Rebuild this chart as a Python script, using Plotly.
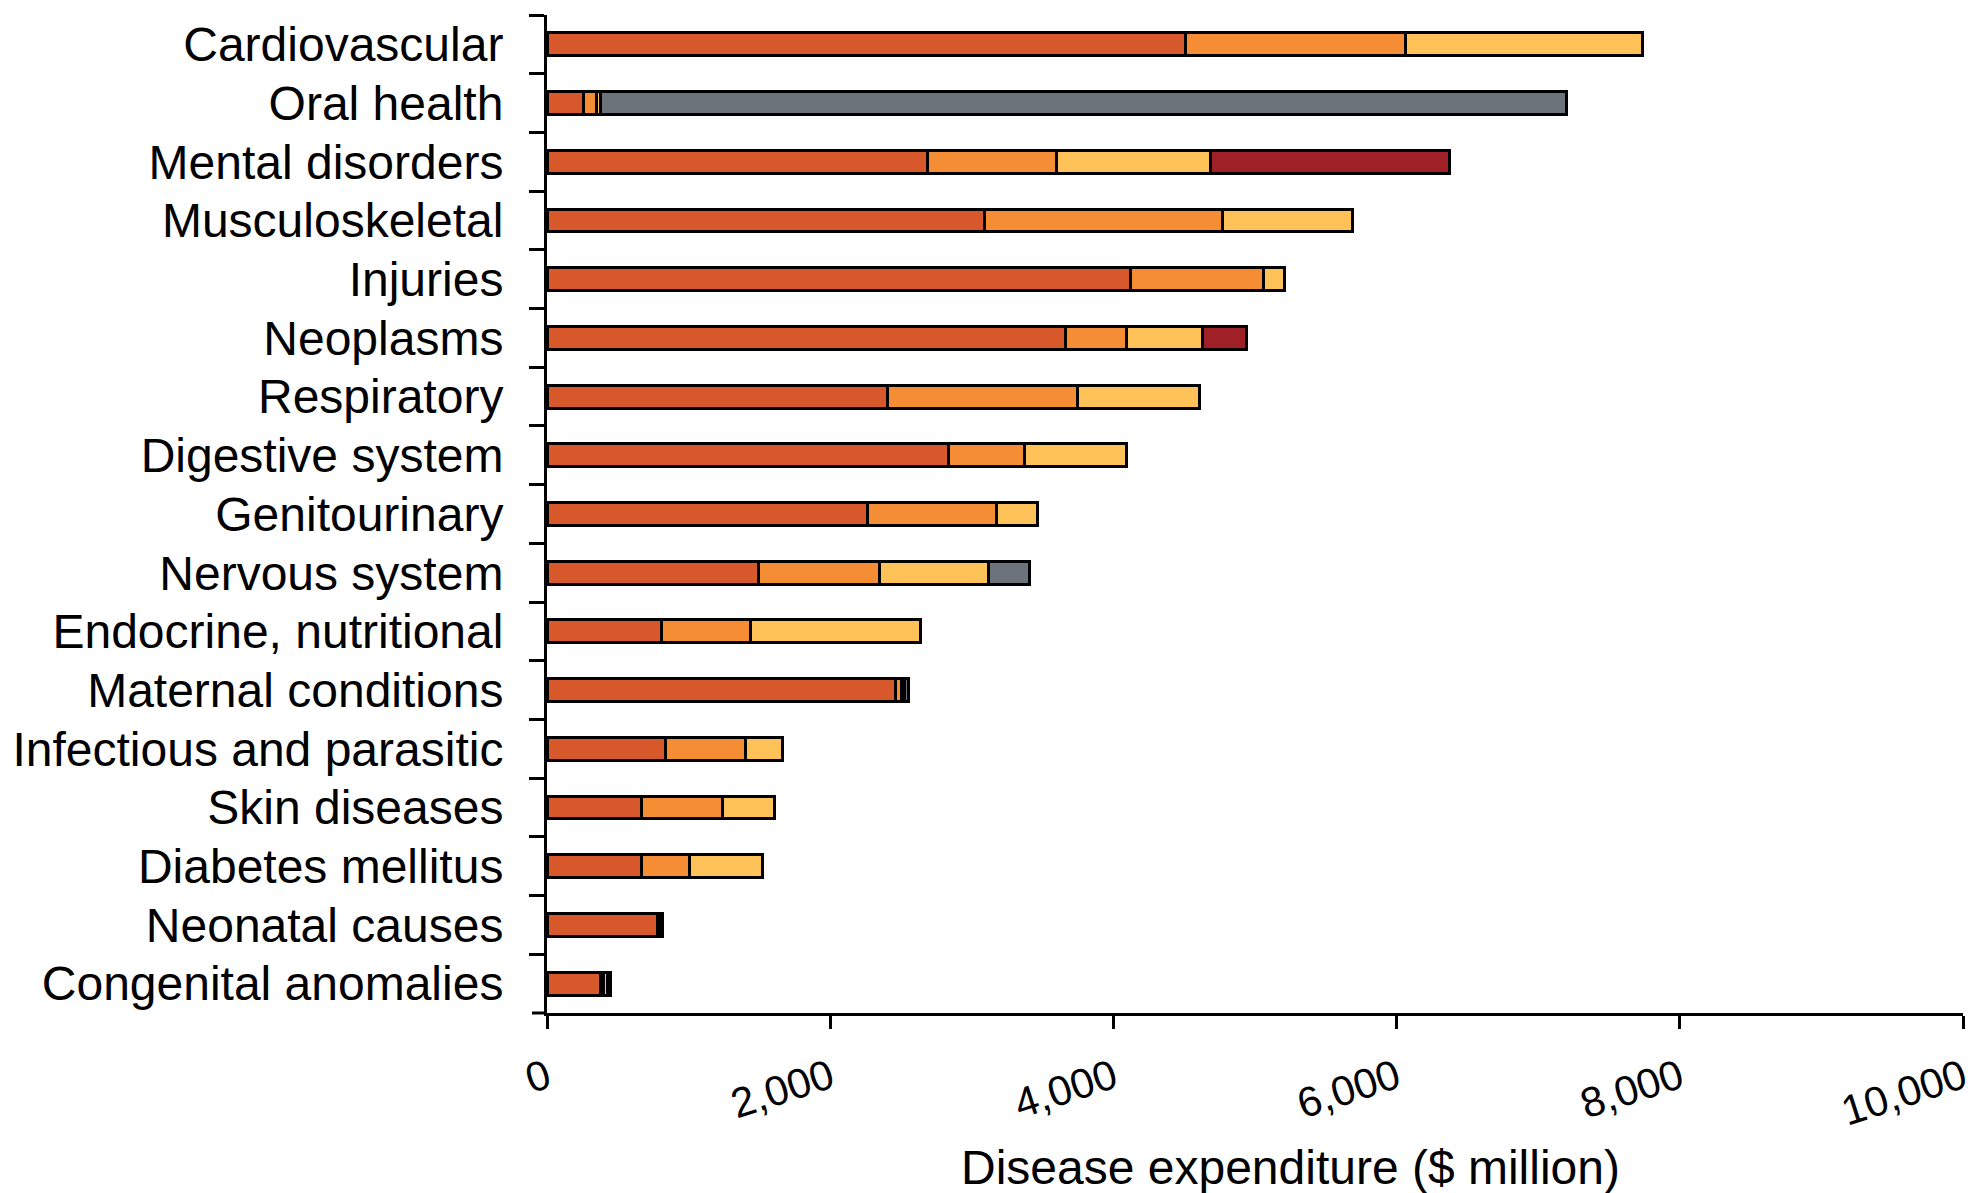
import plotly.graph_objects as go

categories = ["Cardiovascular", "Oral health", "Mental disorders", "Musculoskeletal",
              "Injuries", "Neoplasms", "Respiratory", "Digestive system", "Genitourinary",
              "Nervous system", "Endocrine, nutritional", "Maternal conditions",
              "Infectious and parasitic", "Skin diseases", "Diabetes mellitus",
              "Neonatal causes", "Congenital anomalies"]

hospital = [4510, 260, 2690, 3090, 4120, 3660, 2405, 2835, 2260, 1495, 810, 2460, 835, 665, 665, 780, 375]
out_of_hospital = [1550, 90, 910, 1680, 940, 430, 1340, 535, 915, 855, 625, 40, 570, 575, 340, 20, 25]
pharmaceuticals = [1680, 30, 1085, 920, 150, 540, 860, 725, 290, 770, 1200, 25, 260, 370, 520, 15, 25]
dental = [None, 6820, None, None, None, None, None, None, None, 290, None, 25, None, None, None, None, 20]
other = [None, None, 1690, None, None, 310, None, None, None, None, None, None, None, None, None, None, None]

x_ticks = [0, 2000, 4000, 6000, 8000, 10000]
x_title = "Disease expenditure ($ million)"

series = [
    ("Hospital admitted patient services", hospital, "#D6582B"),
    ("Out-of-hospital medical services", out_of_hospital, "#F58D35"),
    ("Prescription pharmaceuticals", pharmaceuticals, "#FEC259"),
    ("Dental services", dental, "#6C737B"),
    ("Other", other, "#A02028"),
]

FONT = "Liberation Sans, Arial, sans-serif"

fig = go.Figure()
for name, vals, col in series:
    fig.add_trace(go.Bar(
        y=categories, x=vals, name=name, orientation="h",
        marker=dict(color=col, line=dict(color="black", width=3)),
        width=0.39,
    ))

fig.update_layout(
    width=1972, height=1193,
    barmode="stack",
    showlegend=False,
    paper_bgcolor="white", plot_bgcolor="white",
    margin=dict(l=547, r=9, t=15, b=180),
    font=dict(family=FONT, color="black", size=48),
)

fig.update_yaxes(
    type="category", categoryorder="array", categoryarray=categories,
    range=[len(categories) - 0.5, -0.5],
    showline=True, linewidth=3, linecolor="black",
    ticks="outside", ticklen=15, tickwidth=3, tickcolor="black",
    tickson="boundaries", showgrid=False, zeroline=False,
    tickfont=dict(family=FONT, size=48, color="black"),
    ticklabelstandoff=31, automargin=False,
)

fig.update_xaxes(
    range=[0, 10000], tickvals=x_ticks, tickformat=",",
    showline=True, linewidth=3, linecolor="black",
    ticks="outside", ticklen=13, tickwidth=3, tickcolor="black",
    showgrid=False, zeroline=False, tickangle=-18,
    tickfont=dict(family=FONT, size=42, color="black"),
    ticklabelstandoff=8, ticklabeloverflow="allow", automargin=False,
)

fig.add_shape(type="line", xref="paper", yref="paper", x0=-15 / 1416, x1=0, y0=0, y1=0,
              line=dict(color="black", width=3))

fig.add_annotation(text=x_title, xref="paper", yref="paper", x=0.5254, y=-0.1553,
                   xanchor="center", yanchor="middle", showarrow=False,
                   font=dict(family=FONT, size=48, color="black"))

fig.write_html("out.html", config={"displayModeBar": False},
               post_script="document.body.style.margin='0';document.body.style.overflow='hidden';")
